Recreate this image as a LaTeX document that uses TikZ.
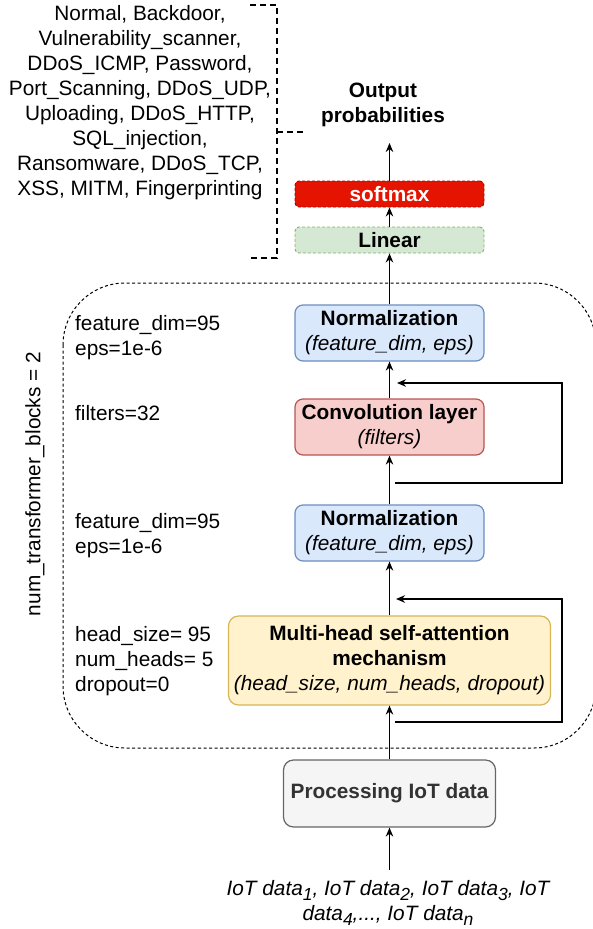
\documentclass[tikz,border=0pt]{standalone}
\usepackage{fontspec}
\setmainfont{Liberation Sans}
\usetikzlibrary{arrows.meta}
\definecolor{softfill}{HTML}{E51400}
\definecolor{softdraw}{HTML}{B20000}
\definecolor{linfill}{HTML}{D5E8D4}
\definecolor{lindraw}{HTML}{82B366}
\definecolor{normfill}{HTML}{DAE8FC}
\definecolor{normdraw}{HTML}{6C8EBF}
\definecolor{convfill}{HTML}{F8CECC}
\definecolor{convdraw}{HTML}{B85450}
\definecolor{attfill}{HTML}{FFF2CC}
\definecolor{attdraw}{HTML}{D6B656}
\definecolor{procfill}{HTML}{F5F5F5}
\definecolor{procdraw}{HTML}{666666}
\definecolor{proctext}{HTML}{333333}
\newcommand{\fs}{\fontsize{20.8}{25}\selectfont}
\newcommand{\sbs}[1]{\raisebox{-0.45ex}{\fontsize{17.5}{17.5}\selectfont #1}}
\begin{document}
\begin{tikzpicture}[x=1pt,y=-1pt,
  box/.style={draw, line width=1.2pt, rounded corners=8pt, align=center, inner sep=0pt, font=\fs},
  thinbox/.style={box, line width=0.9pt, dash pattern=on 3pt off 2pt, rounded corners=4pt, minimum width=189pt, minimum height=26pt},
  arr/.style={line width=1.3pt, -{Stealth[length=9pt,width=7.5pt]}},
  lbl/.style={align=left, anchor=west, inner sep=0pt, font=\fs}]
\useasboundingbox (0,0) rectangle (592,929);

% container
\draw[line width=1pt, dash pattern=on 3pt off 2.5pt, rounded corners=62pt] (63,283) rectangle (596,748);

% class list and bracket
\node[font=\fs, align=center, inner sep=0pt] (cls) at (140,103) {Normal, Backdoor,\\Vulnerability\_scanner,\\DDoS\_ICMP, Password,\\Port\_Scanning, DDoS\_UDP,\\Uploading, DDoS\_HTTP,\\SQL\_injection,\\Ransomware, DDoS\_TCP,\\XSS, MITM, Fingerprinting};
\draw[line width=2.5pt, dash pattern=on 6pt off 4pt] (250,5) -- (277,5) -- (277,258) -- (250,258);
\draw[line width=2.5pt, dash pattern=on 6pt off 4pt] (277,132) -- (305,132);

% output
\node[font=\fs\bfseries, align=center, inner sep=0pt] (out) at (383,104.5) {Output\\probabilities};
\coordinate (outtip) at (389.5,143);

% boxes
\node[thinbox, fill=softfill, draw=softdraw, text=white, font=\fs\bfseries] (soft) at (389.5,194) {softmax};
\node[thinbox, fill=linfill, draw=lindraw, font=\fs\bfseries] (lin) at (389.5,240) {Linear};
\node[box, fill=normfill, draw=normdraw, minimum width=189pt, minimum height=56pt] (norm1) at (389.5,333) {\textbf{Normalization}\\\textit{(feature\_dim, eps)}};
\node[box, fill=convfill, draw=convdraw, minimum width=189pt, minimum height=56pt] (conv) at (389.5,427) {\textbf{Convolution layer}\\\textit{(filters)}};
\node[box, fill=normfill, draw=normdraw, minimum width=189pt, minimum height=56pt] (norm2) at (389.5,533) {\textbf{Normalization}\\\textit{(feature\_dim, eps)}};
\node[box, fill=attfill, draw=attdraw, rounded corners=10pt, minimum width=322pt, minimum height=89pt] (att) at (389.5,660.5) {\textbf{Multi-head self-attention}\\\textbf{mechanism}\\\textit{(head\_size, num\_heads, dropout)}};
\node[box, fill=procfill, draw=procdraw, rounded corners=10pt, minimum width=212pt, minimum height=67pt, text=proctext, font=\fs\bfseries] (proc) at (389.5,793.5) {Processing IoT data};

% input text
\node[font=\fs\itshape, align=center, inner sep=0pt] (inp) at (388,903) {IoT data\sbs{1}, IoT data\sbs{2}, IoT data\sbs{3}, IoT\\data\sbs{4},..., IoT data\sbs{n}};
\coordinate (instart) at (389.5,870);

% left labels
\node[lbl] (l1) at (75,337.5) {feature\_dim=95\\eps=1e-6};
\node[lbl] (l2) at (75,413) {filters=32};
\node[lbl] (l3) at (75,535.5) {feature\_dim=95\\eps=1e-6};
\node[lbl] (l4) at (75,661) {head\_size= 95\\num\_heads= 5\\dropout=0};
\node[rotate=90, font=\fs, inner sep=0pt] (ntb) at (35,484) {num\_transformer\_blocks = 2};

% main arrows
\draw[arr] (instart) -- (proc.south);
\draw[arr] (proc.north) -- (att.south);
\draw[arr] (att.north) -- (norm2.south);
\draw[arr] (norm2.north) -- (conv.south);
\draw[arr] (conv.north) -- (norm1.south);
\draw[arr] (norm1.north) -- (lin.south);
\draw[arr] (lin.north) -- (soft.south);
\draw[arr] (soft.north) -- (outtip);

% residual connections
\coordinate (r1a) at (395,483);
\coordinate (r1b) at (397,383);
\draw[arr] (r1a) -- (562,483) -- (562,383) -- (r1b);
\coordinate (r2a) at (395,722);
\coordinate (r2b) at (396,599);
\draw[arr] (r2a) -- (562,722) -- (562,599) -- (r2b);
\end{tikzpicture}
\end{document}
